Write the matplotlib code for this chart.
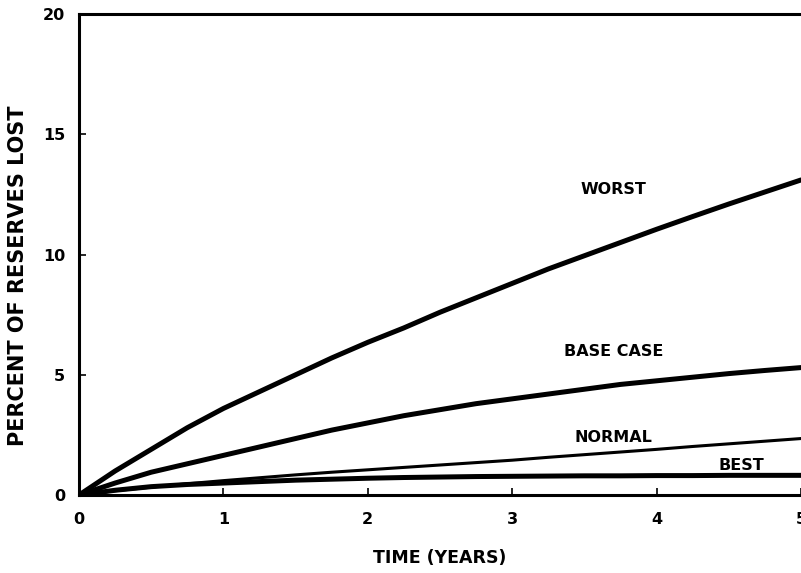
import matplotlib.pyplot as plt

plt.rcParams["font.family"] = ["DejaVu Sans"]
plt.rcParams["font.weight"] = "bold"

years = [0, 0.25, 0.5, 0.75, 1, 1.25, 1.5, 1.75, 2, 2.25, 2.5,
         2.75, 3, 3.25, 3.5, 3.75, 4, 4.25, 4.5, 4.75, 5]
worst = [0, 1.0, 1.9, 2.8, 3.6, 4.3, 5.0, 5.7, 6.35, 6.95, 7.6,
         8.2, 8.8, 9.4, 9.95, 10.5, 11.05, 11.58, 12.1, 12.6, 13.1]
base_case = [0, 0.5, 0.95, 1.3, 1.65, 2.0, 2.35, 2.7, 3.0, 3.3, 3.55,
             3.8, 4.0, 4.2, 4.4, 4.6, 4.75, 4.9, 5.05, 5.18, 5.3]
normal = [0, 0.18, 0.33, 0.47, 0.6, 0.72, 0.84, 0.95, 1.05, 1.15, 1.25,
          1.35, 1.45, 1.57, 1.68, 1.79, 1.9, 2.02, 2.13, 2.24, 2.35]
best = [0, 0.2, 0.35, 0.44, 0.5, 0.56, 0.62, 0.66, 0.7, 0.73, 0.75,
        0.77, 0.78, 0.79, 0.8, 0.8, 0.81, 0.81, 0.82, 0.82, 0.82]


def main() -> None:
    fig = plt.figure(figsize=(8.01, 5.73), dpi=100)
    ax = fig.add_axes([0.0986, 0.136, 0.9014, 0.8396])

    for series, width in [(worst, 3.6), (base_case, 3.6), (normal, 2.2), (best, 3.6)]:
        ax.plot(years, series, color="black", lw=width,
                solid_capstyle="round", solid_joinstyle="round")

    ax.text(3.7, 12.7, "WORST", ha="center", va="center", fontsize=11.5, fontweight="bold")
    ax.text(3.7, 5.95, "BASE CASE", ha="center", va="center", fontsize=11.5, fontweight="bold")
    ax.text(3.7, 2.41, "NORMAL", ha="center", va="center", fontsize=11.5, fontweight="bold")
    ax.text(4.59, 1.25, "BEST", ha="center", va="center", fontsize=11.5, fontweight="bold")

    ax.set_xlim(0, 5)
    ax.set_ylim(0, 20)
    ax.set_xticks([0, 1, 2, 3, 4, 5])
    ax.set_yticks([0, 5, 10, 15, 20])
    ax.tick_params(direction="in", length=5, width=1.2, labelsize=11.5)
    ax.tick_params(axis="x", pad=12)
    ax.tick_params(axis="y", pad=10)
    for lab in ax.get_xticklabels() + ax.get_yticklabels():
        lab.set_fontweight("bold")

    for side in ["left", "bottom", "top"]:
        ax.spines[side].set_linewidth(2.2)
    ax.spines["right"].set_visible(False)

    ax.set_xlabel("TIME (YEARS)", fontsize=12.5, fontweight="bold", labelpad=16)
    ax.set_ylabel("PERCENT OF RESERVES LOST", fontsize=15, fontweight="bold")
    ax.yaxis.set_label_coords(-0.07, 0.455)

    fig.savefig("out.png", dpi=100)
    plt.close(fig)


if __name__ == "__main__":
    main()
